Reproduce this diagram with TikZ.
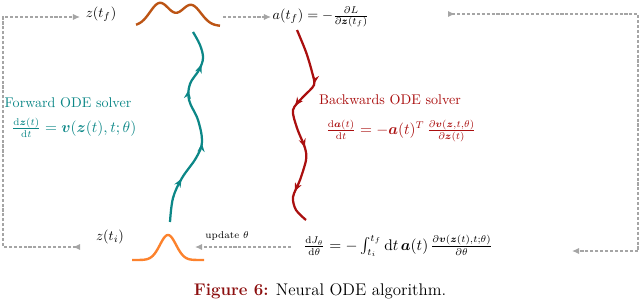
\documentclass[tikz,border=0pt]{standalone}
\usepackage{amsmath}
\usepackage{bm}
\usetikzlibrary{arrows.meta,decorations.markings}

\definecolor{fwdteal}{RGB}{12,135,135}
\definecolor{bwdred}{RGB}{170,15,15}
\definecolor{finbrown}{RGB}{188,84,20}
\definecolor{iniorange}{RGB}{252,130,45}
\definecolor{loopgray}{RGB}{165,165,165}
\definecolor{capred}{RGB}{140,15,15}

\begin{document}
\begin{tikzpicture}[
		x=0.25mm, y=-0.25mm,
		txt/.style={inner sep=1pt},
		big/.style={font=\fontsize{10.6}{12}\selectfont},
		flow/.style={draw=loopgray, line width=0.9pt, dash pattern=on 2.2pt off 1.3pt},
		flowhead/.style={-{Latex[length=5pt,width=4.5pt]}},
		loophead/.style={{Latex[reversed,length=5pt,width=4.5pt]}-{Latex[length=5pt,width=4.5pt]}},
		density/.style={line width=1.7pt},
		solver/.style={line width=1.6pt, postaction={decorate}}
	]
	\useasboundingbox (0,0) rectangle (640,302);

	% Nodes
	\node[txt] (zf) at (101,14) {$z(t_f)$};
	\node[txt, anchor=west] (af) at (271,17) {$a(t_f) = -\tfrac{\partial L}{\partial \bm{z}(t_f)}$};

	\node[txt, fwdteal] (fwdname) at (68,103) {Forward ODE solver};
	\node[txt, big, fwdteal] (fwdeq) at (74,128) {$\tfrac{\mathrm{d}\bm{z}(t)}{\mathrm{d}t} = \bm{v}(\bm{z}(t),t;\theta)$};

	\node[txt, bwdred] (bwdname) at (390,100) {Backwards ODE solver};
	\node[txt, big, bwdred] (bwdeq) at (401,131) {$\tfrac{\mathrm{d}\bm{a}(t)}{\mathrm{d}t} = -\bm{a}(t)^T\,\tfrac{\partial \bm{v}(\bm{z},t,\theta)}{\partial \bm{z}(t)}$};

	\node[txt] (zi) at (110,237) {$z(t_i)$};
	\node[txt, big] (dj) at (398,246) {$\tfrac{\mathrm{d}J_\theta}{\mathrm{d}\theta} = -\int_{t_i}^{t_f}\mathrm{d}t\,\bm{a}(t)\,\tfrac{\partial \bm{v}(\bm{z}(t),t;\theta)}{\partial \theta}$};

	\node[txt] (caption) at (320,291) {\large\textcolor{capred}{\textbf{Figure 6:}} Neural ODE algorithm.};

	% Densities
	\draw[density, finbrown] plot[domain=136:220, samples=80] (\x, {26 - 23*exp(-(\x-160)^2/200) - 21*exp(-(\x-191)^2/200)});
	\draw[density, iniorange] plot[domain=132:204, samples=80] (\x, {260 - 25*exp(-(\x-168)^2/130)});

	% Solvers
	\draw[solver, fwdteal, decoration={markings,
			mark=at position 0.22 with {\arrow{Stealth[length=6pt,width=5pt]}},
			mark=at position 0.42 with {\arrow{Stealth[length=6pt,width=5pt]}},
			mark=at position 0.69 with {\arrow{Stealth[length=6pt,width=5pt]}},
			mark=at position 0.83 with {\arrow{Stealth[length=6pt,width=5pt]}}}]
		plot[smooth, tension=0.6] coordinates {(170,222) (173,198) (182,178) (196,158) (202,142) (198,120) (189,100) (190,84) (199,70) (203,58) (200,45) (193,32)};
	\draw[solver, bwdred, decoration={markings,
			mark=at position 0.27 with {\arrow{Stealth[length=6pt,width=5pt]}},
			mark=at position 0.41 with {\arrow{Stealth[length=6pt,width=5pt]}},
			mark=at position 0.62 with {\arrow{Stealth[length=6pt,width=5pt]}},
			mark=at position 0.84 with {\arrow{Stealth[length=6pt,width=5pt]}}}]
		plot[smooth, tension=0.5] coordinates {(297,30) (306,52) (312,72) (314,85) (303,97) (293,110) (297,128) (305,148) (306,160) (300,180) (293,197) (296,210) (306,220)};

	% Loop ends
	\coordinate (fend) at (223,17);
	\coordinate (iend) at (195,247);
	\coordinate (lbot) at (80,247);
	\coordinate (ltop) at (80,17);
	\coordinate (lcorner) at (3,17);
	\coordinate (rtop) at (448,14);
	\coordinate (rbot) at (572,251);
	\coordinate (rcorner) at (638,14);

	% Arrows
	\draw[flow, flowhead] (fend) -- (fend -| af.west);
	\draw[flow, flowhead, shorten <=8pt] (dj.west |- iend) -- node[pos=0.7, above=1pt, font=\scriptsize] {update $\theta$} (iend);
	\draw[flow, loophead] (lbot) -| (lcorner) -- (ltop);
	\draw[flow, loophead] (rtop) -- (rcorner) |- (rbot);
\end{tikzpicture}
\end{document}
